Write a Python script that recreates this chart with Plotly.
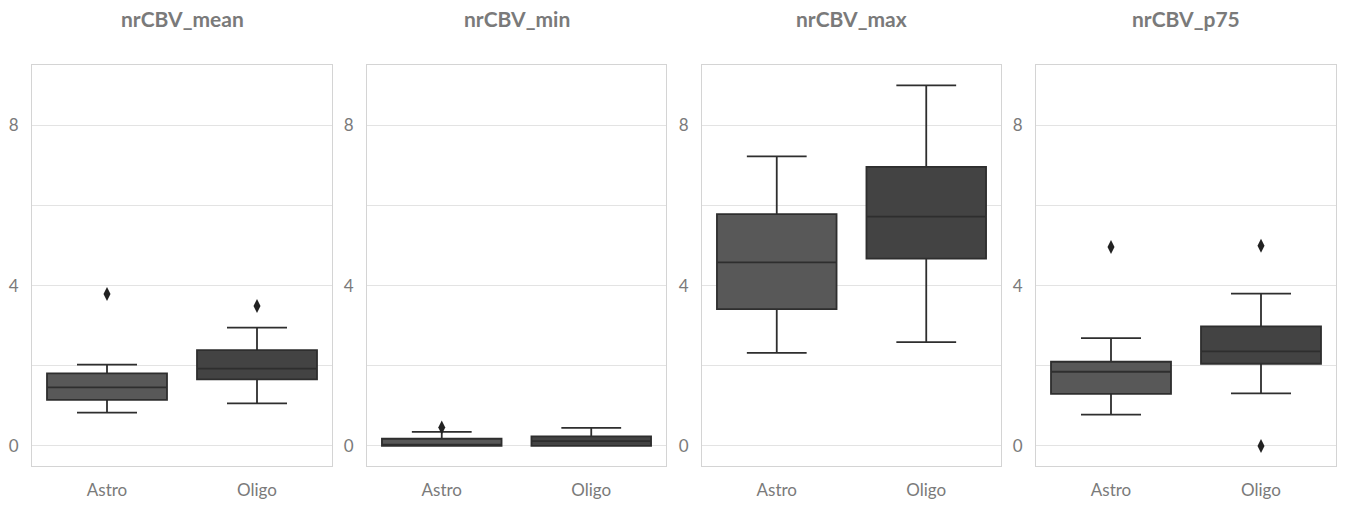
import plotly.graph_objects as go

categories = ["Astro", "Oligo"]
panel_titles = ["nrCBV_mean", "nrCBV_min", "nrCBV_max", "nrCBV_p75"]

# [Astro, Oligo] statistics per panel
q1_vals = [[1.15, 1.66], [0.0, 0.0], [3.41, 4.67], [1.30, 2.05]]
median_vals = [[1.46, 1.93], [0.03, 0.12], [4.58, 5.72], [1.85, 2.36]]
q3_vals = [[1.81, 2.39], [0.18, 0.24], [5.78, 6.96], [2.10, 2.98]]
low_whisker = [[0.83, 1.06], [0.0, 0.0], [2.32, 2.59], [0.78, 1.31]]
high_whisker = [[2.03, 2.95], [0.35, 0.45], [7.22, 8.99], [2.69, 3.80]]
# outliers: list per panel of (category, value)
outlier_cats = [["Astro", "Oligo"], ["Astro"], [], ["Astro", "Oligo", "Oligo"]]
outlier_vals = [[3.79, 3.49], [0.46], [], [4.96, 4.99, 0.0]]

y_tick_vals = [0, 2, 4, 6, 8]
y_tick_text = ["0", "", "4", "", "8"]

fill_colors = ["#585858", "#434343"]
line_color = "#2e2e2e"

W, H = 1345, 506
px_domains = [(32, 332), (367, 666), (702, 1001), (1036, 1336)]
y_top, y_bot = 65, 466

fig = go.Figure()
for i in range(4):
    ax = "" if i == 0 else str(i + 1)
    for j, cat in enumerate(categories):
        fig.add_trace(go.Box(
            x=[cat], q1=[q1_vals[i][j]], median=[median_vals[i][j]], q3=[q3_vals[i][j]],
            lowerfence=[low_whisker[i][j]], upperfence=[high_whisker[i][j]],
            boxpoints=False, width=0.8, whiskerwidth=0.5,
            fillcolor=fill_colors[j], line=dict(color=line_color, width=1.8),
            xaxis="x" + ax, yaxis="y" + ax, showlegend=False, hoverinfo="skip",
        ))
    if outlier_vals[i]:
        fig.add_trace(go.Scatter(
            x=outlier_cats[i], y=outlier_vals[i], mode="markers",
            marker=dict(symbol="diamond-tall", size=10, color="#222222"),
            xaxis="x" + ax, yaxis="y" + ax, showlegend=False, hoverinfo="skip",
        ))
    x0, x1 = px_domains[i]
    xd = [x0 / W, x1 / W]
    yd = [1 - y_bot / H, 1 - y_top / H]
    axis_common = dict(showline=True, mirror=True, linecolor="#d4d4d4", linewidth=1.2,
                       zeroline=False)
    fig.layout["xaxis" + ax] = dict(
        domain=xd, anchor="y" + ax, type="category", categoryorder="array",
        categoryarray=categories, range=[-0.5, 1.5], showgrid=False,
        tickfont=dict(family="Lato, Open Sans, sans-serif", size=17, color="#7a7a7a"),
        ticklabelstandoff=8, **axis_common)
    fig.layout["yaxis" + ax] = dict(
        domain=yd, anchor="x" + ax, range=[-0.5, 9.5],
        tickvals=y_tick_vals, ticktext=y_tick_text, showgrid=True,
        gridcolor="#e3e3e3", gridwidth=1.2,
        tickfont=dict(family="Lato, Open Sans, sans-serif", size=17, color="#7a7a7a"),
        ticklabelstandoff=9, **axis_common)
    fig.add_annotation(
        text="<b>" + panel_titles[i] + "</b>", x=(x0 + x1) / 2 / W, y=1 - 18 / H,
        xref="paper", yref="paper", showarrow=False, xanchor="center", yanchor="middle",
        font=dict(family="Lato, Open Sans, sans-serif", size=21, color="#7a7a7a"),
    )

fig.update_layout(
    width=W, height=H, margin=dict(l=0, r=0, t=0, b=0),
    paper_bgcolor="white", plot_bgcolor="white", boxmode="overlay",
)
fig.write_html("out.html")
